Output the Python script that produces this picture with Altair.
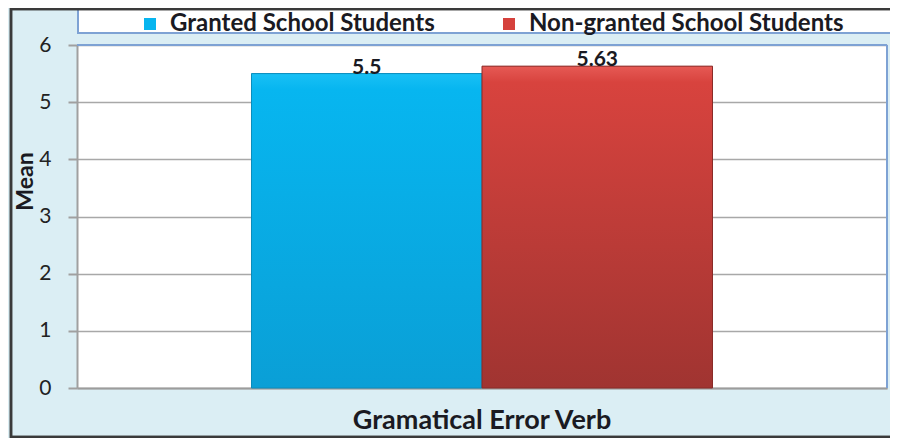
import altair as alt
import pandas as pd

categories = ["Gramatical Error Verb"]
series = ["Granted School Students", "Non-granted School Students"]
values = [5.5, 5.63]
value_labels = ["5.5", "5.63"]
colors = ["#07b5ef", "#d5413c"]
y_ticks = [0, 1, 2, 3, 4, 5, 6]

df = pd.DataFrame({
    "category": [categories[0]] * len(series),
    "series": series,
    "value": values,
    "label": value_labels,
})

W, H = 810, 343
FONT = "Lato"
TXT = "#1a1a22"

x_enc = alt.X(
    "category:N",
    scale=alt.Scale(paddingInner=0, paddingOuter=0.3785),
    axis=alt.Axis(title=None, labelAngle=0, labelFontSize=27, labelFont=FONT,
                  labelFontWeight="bold", labelColor=TXT, labelPadding=19,
                  labelLimit=0, ticks=False, domainColor="#9c9c9c", domainWidth=2),
)
xo_enc = alt.XOffset("series:N", scale=alt.Scale(domain=series, paddingInner=0, paddingOuter=0))
y_enc = alt.Y(
    "value:Q",
    scale=alt.Scale(domain=[0, 6], nice=False),
    axis=alt.Axis(values=y_ticks, title="Mean", titleFontSize=23, titleFont=FONT,
                  titleFontWeight="bold", titleColor=TXT, titleAngle=270,
                  titleX=-52, titleY=136, titleAlign="center", titleBaseline="middle",
                  labelFontSize=21, labelFont=FONT, labelColor="#222222", labelPadding=17,
                  tickSize=9, tickColor="#a0a0a0", tickWidth=2,
                  domainColor="#a0a0a0", domainWidth=2,
                  gridColor="#a8a8a8", gridWidth=1.5),
)

base = alt.Chart(df)

bars = base.mark_bar(strokeWidth=0).encode(
    x=x_enc, xOffset=xo_enc, y=y_enc,
    color=alt.Color("series:N", scale=alt.Scale(domain=series, range=colors),
                    legend=alt.Legend(orient="none", legendX=61, legendY=-33,
                                      direction="horizontal", title=None,
                                      symbolType="square", symbolSize=144,
                                      symbolStrokeWidth=0, labelFontSize=24,
                                      labelFont=FONT, labelFontWeight="bold",
                                      labelColor=TXT, labelOffset=8,
                                      columnPadding=62, padding=0,
                                      labelLimit=600)),
)

grad_blue = alt.Gradient(gradient="linear", x1=0, y1=0, x2=0, y2=1,
                         stops=[alt.GradientStop(offset=0, color="#19c0f5"),
                                alt.GradientStop(offset=0.05, color="#07b6f0"),
                                alt.GradientStop(offset=1, color="#0a9fd6")])
grad_red = alt.Gradient(gradient="linear", x1=0, y1=0, x2=0, y2=1,
                        stops=[alt.GradientStop(offset=0, color="#e65a55"),
                               alt.GradientStop(offset=0.05, color="#d8433e"),
                               alt.GradientStop(offset=1, color="#a03431")])

over_blue = base.transform_filter(alt.datum.series == series[0]).mark_bar(
    color=grad_blue, stroke="#0a8cbc", strokeWidth=1).encode(x=x_enc, xOffset=xo_enc, y=y_enc)
over_red = base.transform_filter(alt.datum.series == series[1]).mark_bar(
    color=grad_red, stroke="#8a2b28", strokeWidth=1).encode(x=x_enc, xOffset=xo_enc, y=y_enc)

texts = base.mark_text(baseline="alphabetic", dy=0, fontSize=21, font=FONT,
                       fontWeight="bold", color=TXT).encode(
    x=x_enc, xOffset=xo_enc, y=y_enc, text="label:N")

top_rule = base.mark_rule(color="#7ea2d4", strokeWidth=2).encode(
    x=alt.value(0), x2=alt.value(W), y=alt.value(0))
right_rule = base.mark_rule(color="#7ea2d4", strokeWidth=2).encode(
    x=alt.value(W), y=alt.value(0), y2=alt.value(H))

legend_box = base.mark_rect(fill="white", stroke="#7ea2d4", strokeWidth=2).encode(
    x=alt.value(1), x2=alt.value(840), y=alt.value(-45), y2=alt.value(-12))
frame = base.mark_rect(filled=False, stroke="#3a3a3a", strokeWidth=2.5).encode(
    x=alt.value(-66), x2=alt.value(840), y=alt.value(-36), y2=alt.value(392))

chart = alt.layer(
    legend_box, bars, over_blue, over_red, texts, top_rule, right_rule, frame
).properties(
    width=W, height=H,
    padding={"left": 69, "top": 37, "right": 3, "bottom": 50},
    autosize=alt.AutoSizeParams(type="none"),
    background="#dbeef4",
).configure_view(fill="white", stroke=None)

chart.save("out.html", embed_options={"renderer": "svg", "actions": False})
